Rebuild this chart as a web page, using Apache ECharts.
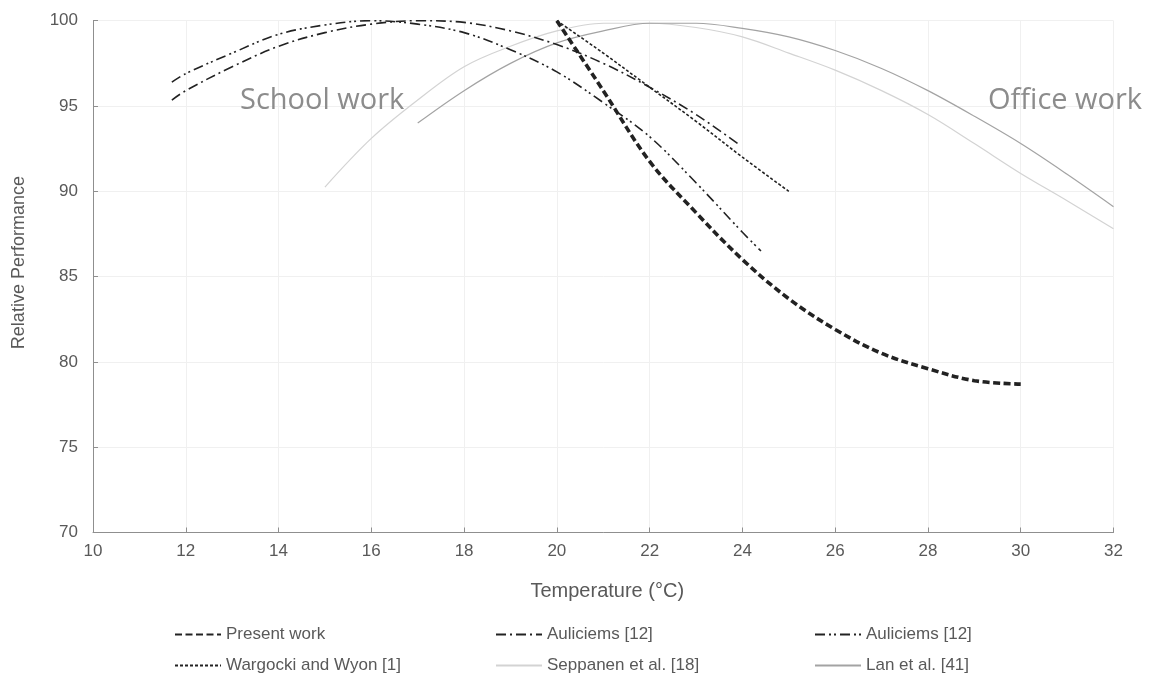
<!DOCTYPE html>
<html>
<head>
<meta charset="utf-8">
<script src="https://cdn.jsdelivr.net/npm/echarts@6/dist/echarts.min.js"></script>
<style>
  html, body { margin: 0; padding: 0; background: #ffffff; }
  #chart { width: 1149px; height: 675px; }
</style>
</head>
<body>
<div id="chart"></div>
<script>
// Relative performance vs. indoor temperature, several studies
const presentT = [20, 21, 22, 23, 24, 25, 26, 27, 28, 29, 30];
const presentV = [100, 95.9, 91.75, 88.75, 86.0, 83.7, 81.9, 80.5, 79.6, 78.9, 78.7];

const auliciemsAT = [11.7, 12, 13, 14, 15, 16, 17, 18, 19, 20, 21, 22, 23, 23.9];
const auliciemsAV = [95.35, 95.9, 97.3, 98.5, 99.3, 99.8, 100, 99.9, 99.4, 98.6, 97.5, 96.1, 94.5, 92.8];

const auliciemsBT = [11.7, 12, 13, 14, 15, 16, 17, 18, 19, 20, 21, 22, 23, 24, 24.4];
const auliciemsBV = [96.4, 96.9, 98.1, 99.2, 99.75, 100, 99.8, 99.3, 98.3, 97.0, 95.2, 93.2, 90.5, 87.6, 86.5];

const wargockiT = [20, 21, 22, 23, 24, 25];
const wargockiV = [100, 98.1, 96.1, 94.1, 92.0, 90.0];

const seppanenT = [15, 16, 17, 18, 19, 20, 21, 22, 23, 24, 25, 26, 27, 28, 29, 30, 31, 32];
const seppanenV = [90.25, 93.1, 95.35, 97.3, 98.5, 99.4, 99.85, 99.85, 99.6, 99.05, 98.1, 97.1, 95.9, 94.5, 92.8, 91.05, 89.45, 87.8];

const lanT = [17, 18, 19, 20, 21, 22, 23, 24, 25, 26, 27, 28, 29, 30, 31, 32];
const lanV = [94.0, 95.9, 97.5, 98.7, 99.4, 99.85, 99.85, 99.55, 99.05, 98.25, 97.2, 95.9, 94.4, 92.8, 91.0, 89.1];

const xTicks = [10, 12, 14, 16, 18, 20, 22, 24, 26, 28, 30, 32];
const yTicks = [70, 75, 80, 85, 90, 95, 100];

const seriesNames = ['Present work', 'Auliciems [12] #1', 'Auliciems [12] #2',
  'Wargocki and Wyon [1]', 'Seppanen et al. [18]', 'Lan et al. [41]'];

const zip = (t, v) => t.map((x, i) => [x, v[i]]);
const label = name => name.replace(/ #\d$/, '');

const FONT = '"Liberation Sans", Arial, sans-serif';
const INK = '#222222';

const chart = echarts.init(document.getElementById('chart'), null, { renderer: 'canvas' });

function lineSeries(name, t, v, style, z) {
  return {
    name: name,
    type: 'line',
    data: zip(t, v),
    smooth: 0.35,
    symbol: 'none',
    showSymbol: false,
    z: z,
    color: style.color,
    itemStyle: { color: style.color },
    lineStyle: style,
    emphasis: { disabled: true }
  };
}

// One legend block per entry so the entries sit in fixed columns
const legendPos = [
  [174, 626], [495, 626], [814, 626],
  [174, 657], [495, 657], [814, 657]
];
const legends = seriesNames.map((n, i) => ({
  data: [n],
  left: legendPos[i][0],
  top: legendPos[i][1],
  padding: 0,
  itemWidth: 46,
  itemHeight: 12,
  selectedMode: false,
  formatter: label,
  itemStyle: { opacity: 0 },
  textStyle: { fontFamily: FONT, fontSize: 17, color: '#595959' }
}));

chart.setOption({
  animation: false,
  backgroundColor: '#ffffff',
  grid: { left: 93, right: 35.5, top: 20.7, bottom: 142.5, containLabel: false },
  legend: legends,
  xAxis: {
    type: 'value',
    min: xTicks[0],
    max: xTicks[xTicks.length - 1],
    interval: 2,
    name: 'Temperature (°C)',
    nameLocation: 'middle',
    nameGap: 49,
    nameTextStyle: { fontFamily: FONT, fontSize: 20, color: '#595959', padding: [0, 0, 0, 8] },
    axisLine: { show: true, lineStyle: { color: '#8f8f8f', width: 1 } },
    axisTick: { show: true, inside: true, length: 5, lineStyle: { color: '#8f8f8f' } },
    axisLabel: { fontFamily: FONT, fontSize: 17, color: '#595959', margin: 10 },
    splitLine: { show: true, lineStyle: { color: '#f0f0f0', width: 1 } }
  },
  yAxis: {
    type: 'value',
    min: yTicks[0],
    max: yTicks[yTicks.length - 1],
    interval: 5,
    name: 'Relative Performance',
    nameLocation: 'middle',
    nameGap: 65,
    nameTextStyle: { fontFamily: FONT, fontSize: 18, color: '#595959', padding: [0, 0, 0, 28] },
    axisLine: { show: true, lineStyle: { color: '#8f8f8f', width: 1 } },
    axisTick: { show: true, inside: true, length: 5, lineStyle: { color: '#8f8f8f' } },
    axisLabel: { fontFamily: FONT, fontSize: 17, color: '#595959', margin: 15 },
    splitLine: { show: true, lineStyle: { color: '#f0f0f0', width: 1 } }
  },
  graphic: [
    {
      type: 'text', x: 240, y: 101, z: 1,
      style: { text: 'School work', fontFamily: '"Open Sans", sans-serif', fontSize: 29,
               fill: '#8c8c8c', verticalAlign: 'middle' }
    },
    {
      type: 'text', x: 988, y: 101, z: 1,
      style: { text: 'Office work', fontFamily: '"Open Sans", sans-serif', fontSize: 29,
               fill: '#8c8c8c', verticalAlign: 'middle' }
    }
  ],
  series: [
    lineSeries(seriesNames[4], seppanenT, seppanenV, { color: '#d3d3d3', width: 1.2, type: 'solid' }, 2),
    lineSeries(seriesNames[5], lanT, lanV, { color: '#a3a3a3', width: 1.2, type: 'solid' }, 2),
    lineSeries(seriesNames[3], wargockiT, wargockiV, { color: INK, width: 1.6, type: [3, 2] }, 3),
    lineSeries(seriesNames[1], auliciemsAT, auliciemsAV, { color: INK, width: 1.6, type: [10, 4, 2, 4] }, 3),
    lineSeries(seriesNames[2], auliciemsBT, auliciemsBV, { color: INK, width: 1.6, type: [10, 4, 2, 3, 2, 4] }, 3),
    lineSeries(seriesNames[0], presentT, presentV, { color: INK, width: 3.6, type: [7, 3.5] }, 4)
  ]
});
</script>
</body>
</html>
